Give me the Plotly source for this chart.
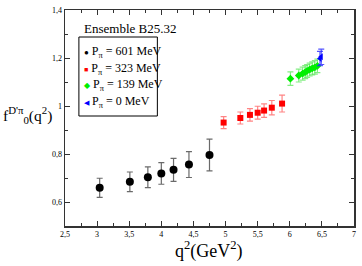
import plotly.graph_objects as go

# Data
q2_601 = [3.04, 3.51, 3.79, 4.00, 4.19, 4.43, 4.75]
f0_601 = [0.659, 0.684, 0.703, 0.719, 0.734, 0.756, 0.796]
err_601 = [0.040, 0.041, 0.043, 0.045, 0.048, 0.054, 0.066]

q2_323 = [4.97, 5.23, 5.38, 5.50, 5.60, 5.72, 5.88]
f0_323 = [0.931, 0.950, 0.963, 0.972, 0.981, 0.993, 1.010]
err_323 = [0.025, 0.025, 0.026, 0.027, 0.028, 0.030, 0.035]

q2_139 = [6.01, 6.14, 6.20, 6.24, 6.27, 6.31, 6.35, 6.39, 6.43]
f0_139 = [1.114, 1.127, 1.135, 1.141, 1.146, 1.152, 1.157, 1.161, 1.167]
err_139 = [0.028, 0.027, 0.027, 0.027, 0.027, 0.027, 0.027, 0.028, 0.028]

q2_0 = [6.47, 6.49]
f0_0 = [1.198, 1.205]
err_0 = [0.030, 0.032]

labels = ["P<sub>π</sub> = 601 MeV", "P<sub>π</sub> = 323 MeV",
          "P<sub>π</sub> = 139 MeV", "P<sub>π</sub> = 0 MeV"]
legend_glyphs = ["●", "■", "◆", "◀"]

series = [
    (labels[0], q2_601, f0_601, err_601, "black", "rgba(90,90,90,0.9)", "circle", 8),
    (labels[1], q2_323, f0_323, err_323, "#ff0000", "rgba(255,80,80,0.7)", "square", 6),
    (labels[2], q2_139, f0_139, err_139, "#00ee00", "rgba(80,230,80,0.7)", "diamond", 6),
    (labels[3], q2_0, f0_0, err_0, "#0000ff", "rgba(40,40,255,0.8)", "triangle-left", 6),
]

fig = go.Figure()
for name, x, y, e, col, ecol, sym, sz in series:
    fig.add_trace(go.Scatter(
        x=x, y=y, mode="markers", name=name, showlegend=False,
        marker=dict(color=col, symbol=sym, size=sz, line=dict(width=0)),
        error_y=dict(type="data", array=e, visible=True, color=ecol, thickness=1.2, width=3),
    ))

font_serif = "Liberation Serif, Times New Roman, serif"

axis_common = dict(
    showgrid=False, zeroline=False, showline=True, linecolor="#333", linewidth=1.5,
    mirror="ticks", ticks="inside", ticklen=5, tickwidth=1, tickcolor="#333",
    tickfont=dict(family=font_serif, size=8, color="black"),
)

L, R, T, B = 65, 6, 10, 40
W, H = 362, 266
pw, ph = W - L - R, H - T - B


def px(xp):
    return (xp - L) / pw


def py(yp):
    return (H - B - yp) / ph


annotations = [
    dict(text="Ensemble B25.32", x=px(82), y=py(28), xref="paper", yref="paper",
         showarrow=False, font=dict(family=font_serif, size=13, color="black"),
         xanchor="left", yanchor="middle"),
    dict(text="f<sup>D'π</sup><sub>0</sub>(q<sup>2</sup>)", x=px(1), y=py(115),
         xref="paper", yref="paper",
         showarrow=False, font=dict(family=font_serif, size=15.5, color="black"),
         xanchor="left", yanchor="middle"),
    dict(text="q<sup>2</sup>(GeV<sup>2</sup>)", x=px(210), y=py(250),
         xref="paper", yref="paper",
         showarrow=False, font=dict(family=font_serif, size=18, color="black"),
         xanchor="center", yanchor="middle"),
]

row_y = [51.5, 68.5, 85, 101.5]
for (name, x, y, e, col, ecol, sym, sz), g, ry in zip(series, legend_glyphs, row_y):
    gsize = 8 if g in ("●", "◆") else 7
    annotations.append(dict(
        text=f"<span style='color:{col};font-size:{gsize}px'>{g}</span> {name}",
        x=px(82), y=py(ry), xref="paper", yref="paper", showarrow=False,
        font=dict(family=font_serif, size=12, color="black"),
        xanchor="left", yanchor="middle"))

fig.update_layout(
    width=W, height=H,
    margin=dict(l=L, r=R, t=T, b=B),
    paper_bgcolor="white", plot_bgcolor="white",
    separators=", ",
    showlegend=False,
    hovermode=False,
    xaxis=dict(range=[2.5, 7], dtick=0.5, tick0=2.5,
               minor=dict(dtick=0.25, ticks="inside", ticklen=3, tickcolor="#333"),
               **axis_common),
    yaxis=dict(range=[0.5, 1.4], dtick=0.2, tick0=0.6,
               minor=dict(dtick=0.1, ticks="inside", ticklen=3, tickcolor="#333"),
               **axis_common),
    annotations=annotations,
    shapes=[dict(type="rect", xref="paper", yref="paper",
                 x0=px(79), x1=px(158), y0=py(116), y1=py(37),
                 line=dict(color="black", width=1), fillcolor="rgba(0,0,0,0)")],
)

fig.write_html("out.html", config={"displayModeBar": False, "staticPlot": True},
               post_script="document.body.style.margin='0px';")
